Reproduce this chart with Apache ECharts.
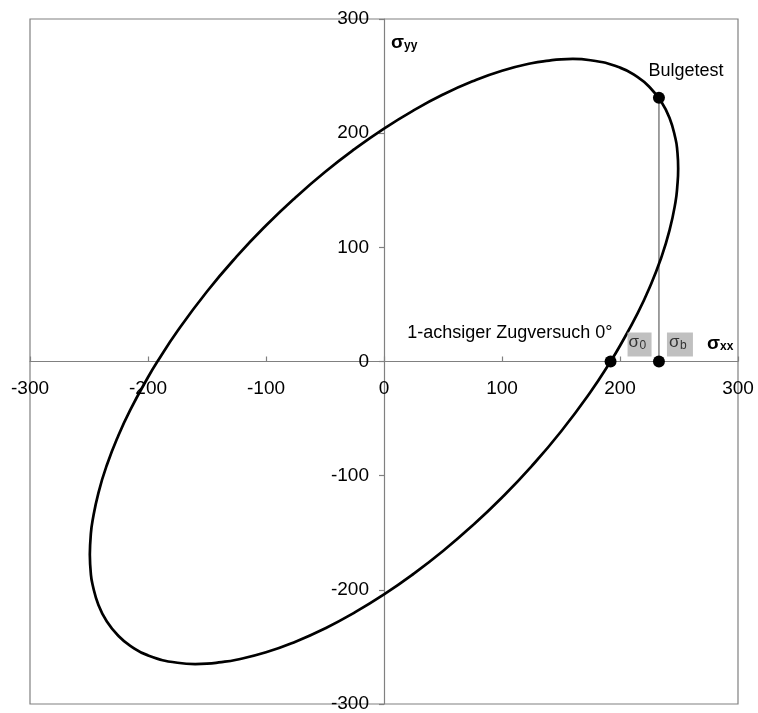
<!DOCTYPE html>
<html>
<head>
<meta charset="utf-8">
<script src="https://cdn.jsdelivr.net/npm/echarts@6/dist/echarts.min.js"></script>
<style>
  html, body { margin: 0; padding: 0; background: #fff; }
  #chart { width: 758px; height: 713px; }
</style>
</head>
<body>
<div id="chart"></div>
<script>
// Yield locus (σxx, σyy) in MPa, traced counter-clockwise around the ellipse
const ellipseX = [
  -249.3, -248.5, -247, -242, -235, -225, -215, -200, -192, -175, -150, -125, -100, -75, -50, -25,
  0, 25, 50, 75, 100, 125, 140, 150, 160, 175, 200, 215, 225, 235, 242, 247, 248.5, 249.3,
  248.5, 247, 242, 235, 225, 215, 200, 192, 175, 150, 125, 100, 75, 50, 25,
  0, -25, -50, -75, -100, -125, -140, -150, -160, -175, -200, -215, -225, -235, -242, -247, -248.5, -249.3
];
const ellipseY = [
  -169.0, -151.8, -139.5, -115.0, -91.1, -64.6, -42.4, -13.8, 0, 26.7, 61.3, 91.8, 119.1, 143.7, 166.0, 186.0,
  204.0, 219.9, 233.8, 245.4, 254.7, 261.2, 263.6, 264.7, 265.0, 263.9, 257.4, 249.0, 240.4, 227.5, 213.2, 195.3, 185.2, 169.0,
  152.8, 139.5, 115.0, 91.1, 64.6, 42.4, 13.8, 0, -26.7, -61.3, -91.8, -119.1, -143.7, -166.0, -186.0,
  -204.0, -219.9, -233.8, -245.4, -254.7, -261.2, -263.6, -264.7, -265.0, -263.9, -257.4, -249.0, -240.4, -227.5, -213.2, -195.3, -185.2, -169.0
];

// Test points: uniaxial tension (σ0), bulge test, and its projection on σxx (σb)
const sigma0 = [192, 0];
const bulge = [233, 231];
const sigmaB = [233, 0];

// Axis ticks
const axisMin = -300;
const axisMax = 300;
const axisStep = 100;

const FONT = '"Liberation Sans", Arial, sans-serif';
const GRAY = '#808080';

// Plot box inside the 758 x 713 canvas
const GRID = { left: 30, right: 20, top: 19, bottom: 9 };
const plotW = 758 - GRID.left - GRID.right;
const plotH = 713 - GRID.top - GRID.bottom;

const chart = echarts.init(document.getElementById('chart'), null, { renderer: 'canvas' });

const curveData = ellipseX.map((x, i) => [x, ellipseY[i]]);

const axisCommon = {
  type: 'value',
  min: axisMin,
  max: axisMax,
  interval: axisStep,
  splitLine: { show: false },
  axisLine: { show: true, onZero: false, lineStyle: { color: GRAY, width: 1.2 } },
  axisLabel: { color: '#000', fontFamily: FONT, fontSize: 19 }
};

chart.setOption({
  animation: false,
  backgroundColor: '#fff',
  grid: {
    left: GRID.left, right: GRID.right, top: GRID.top, bottom: GRID.bottom,
    containLabel: false,
    outerBoundsMode: 'none',
    show: true, borderColor: GRAY, borderWidth: 1.2, backgroundColor: 'transparent'
  },
  // axes crossing through the origin (the range is symmetric, so zero sits mid-box)
  xAxis: Object.assign({}, axisCommon, {
    position: 'bottom',
    offset: -plotH / 2,
    axisTick: { show: true, inside: true, length: 5, lineStyle: { color: GRAY, width: 1.2 } },
    axisLabel: Object.assign({}, axisCommon.axisLabel, { margin: 18 })
  }),
  yAxis: Object.assign({}, axisCommon, {
    position: 'left',
    offset: -plotW / 2,
    axisTick: { show: true, inside: false, length: 5, lineStyle: { color: GRAY, width: 1.2 } },
    axisLabel: Object.assign({}, axisCommon.axisLabel, { margin: 15 })
  }),
  series: [
    {
      type: 'line',
      data: curveData,
      smooth: 0.5,
      showSymbol: false,
      lineStyle: { color: '#000', width: 2.7 },
      z: 3
    },
    {
      // drop line from the bulge point down to the σxx axis
      type: 'line',
      data: [bulge, sigmaB],
      showSymbol: false,
      lineStyle: { color: GRAY, width: 1.5 },
      z: 2
    },
    {
      type: 'scatter',
      data: [sigma0, bulge, sigmaB],
      symbol: 'circle',
      symbolSize: 12,
      itemStyle: { color: '#000', opacity: 1 },
      z: 5
    }
  ]
});

// Annotations anchored to the data points
const px = (pt) => chart.convertToPixel({ gridIndex: 0 }, pt);
const pS0 = px(sigma0);
const pB = px(bulge);
const pSB = px(sigmaB);
const pTopRight = px([axisMax, axisMax]);
const pOrigin = px([0, 0]);
const pTop = px([0, axisMax]);

function sigmaLabel(x, y, sub, opts) {
  const bold = opts.bold;
  const color = opts.color || '#000';
  const size = opts.size || 18;
  const subSize = opts.subSize || 12;
  return [
    {
      type: 'text', x: x, y: y, z: 20,
      style: { text: 'σ', font: (bold ? 'bold ' : '') + size + 'px ' + FONT, fill: color,
               textAlign: 'left', textVerticalAlign: 'middle' }
    },
    {
      type: 'text', x: x + opts.subDx, y: y + opts.subDy, z: 20,
      style: { text: sub, font: (bold ? 'bold ' : '') + subSize + 'px ' + FONT, fill: color,
               textAlign: 'left', textVerticalAlign: 'middle' }
    }
  ];
}

const graphics = [
  {
    type: 'text', x: pB[0] + 27, y: pB[1] - 27, z: 20,
    style: { text: 'Bulgetest', font: '18px ' + FONT, fill: '#000',
             textAlign: 'center', textVerticalAlign: 'middle' }
  },
  {
    type: 'text', x: pS0[0] + 2, y: pS0[1] - 28, z: 20,
    style: { text: '1-achsiger Zugversuch 0°', font: '18px ' + FONT, fill: '#000',
             textAlign: 'right', textVerticalAlign: 'middle' }
  },
  {
    type: 'rect', z: 15,
    shape: { x: pS0[0] + 17, y: pS0[1] - 29, width: 24, height: 24 },
    style: { fill: '#c0c0c0' }
  },
  {
    type: 'rect', z: 15,
    shape: { x: pSB[0] + 8, y: pSB[1] - 29, width: 26, height: 24 },
    style: { fill: '#c0c0c0' }
  }
];

graphics.push(...sigmaLabel(pS0[0] + 18, pS0[1] - 19, '0',
  { color: '#333', size: 17, subSize: 12, subDx: 11, subDy: 3 }));
graphics.push(...sigmaLabel(pSB[0] + 10, pSB[1] - 19, 'b',
  { color: '#333', size: 17, subSize: 12, subDx: 11, subDy: 3 }));
graphics.push(...sigmaLabel(pTopRight[0] - 31, pOrigin[1] - 18, 'xx',
  { bold: true, size: 19, subSize: 12, subDx: 13, subDy: 3 }));
graphics.push(...sigmaLabel(pOrigin[0] + 7, pTop[1] + 24, 'yy',
  { bold: true, size: 19, subSize: 12, subDx: 13, subDy: 3 }));

chart.setOption({ graphic: graphics });
</script>
</body>
</html>
